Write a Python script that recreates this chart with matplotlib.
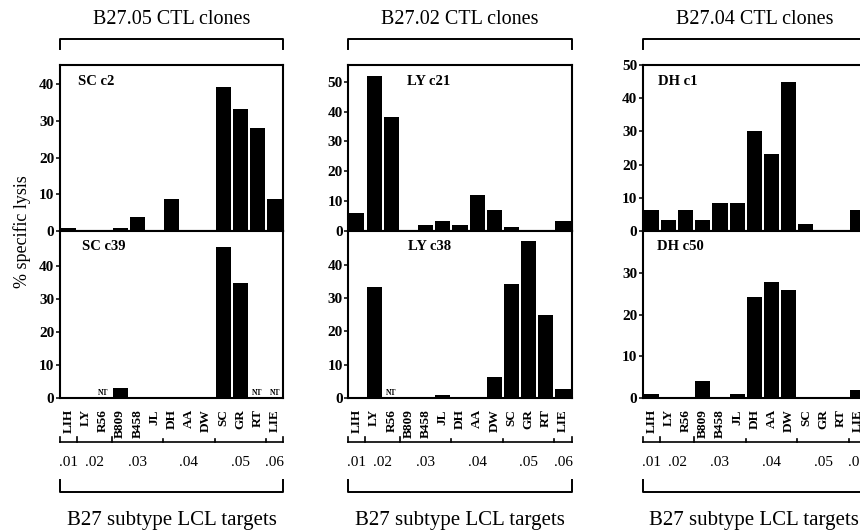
import numpy as np
import matplotlib
matplotlib.use("Agg")
import matplotlib.pyplot as plt
from matplotlib import transforms

plt.rcParams['font.family'] = ['Liberation Serif', 'DejaVu Serif']

# ---------------- data ----------------
targets = ["LIH", "LY", "R56", "B809", "B458", "JL", "DH", "AA", "DW",
           "SC", "GR", "RT", "LIE"]
subtype_groups = [".01", ".02", ".03", ".04", ".05", ".06"]
group_sizes = [1, 2, 3, 3, 3, 1]

titles = ["B27.05 CTL clones", "B27.02 CTL clones", "B27.04 CTL clones"]
xlabel_text = "B27 subtype LCL targets"
ylabel_text = "% specific lysis"
clone_top = ["SC c2", "LY c21", "DH c1"]
clone_bottom = ["SC c39", "LY c38", "DH c50"]

NT = np.nan  # not tested
sc_c2 = [0.8, 0, 0, 0.8, 3.7, 0, 8.7, 0, 0, 39.3, 33.2, 28.0, 8.7]
sc_c39 = [0, 0, NT, 2.9, 0, 0, 0, 0, 0, 45.6, 34.9, NT, NT]
ly_c21 = [6.1, 51.9, 38.3, 0.3, 2.1, 3.2, 2.0, 12.0, 7.2, 1.3, 0.3, 0.3, 3.2]
ly_c38 = [0, 33.3, NT, 0, 0, 1.0, 0, 0, 6.2, 34.3, 47.3, 25.1, 2.8]
dh_c1 = [6.3, 3.2, 6.3, 3.3, 8.4, 8.4, 30.1, 23.2, 45.0, 2.2, 0.3, 0.3, 6.3]
dh_c50 = [1.0, 0.3, 0.3, 4.0, 0.3, 1.0, 24.2, 28.0, 26.1, 0.2, 0.2, 0.2, 1.9]

top_series = [sc_c2, ly_c21, dh_c1]
bottom_series = [sc_c39, ly_c38, dh_c50]
top_ylim = [45.2, 55.6, 50.0]
bottom_ylim = [50.5, 50.2, 40.2]
top_yticks = [[0, 10, 20, 30, 40], [0, 10, 20, 30, 40, 50], [0, 10, 20, 30, 40, 50]]
bottom_yticks = [[0, 10, 20, 30, 40], [0, 10, 20, 30, 40], [0, 10, 20, 30]]

# ---------------- layout ----------------
W, H = 860, 531
fig = plt.figure(figsize=(W / 100, H / 100), dpi=100)

lefts_px = [60, 348.3, 642.7]
width_px = 223.3
top_px, mid_px, bot_px = 65, 231, 398

label_x_px_top = [18, 59, 15]
label_x_px_bot = [22, 60, 14]

x = np.arange(len(targets))
lw = 1.5


def fy(py):
    return (H - py) / H


for k in range(3):
    l = lefts_px[k] / W
    w = width_px / W
    ax_t = fig.add_axes([l, fy(mid_px), w, (mid_px - top_px) / H])
    ax_b = fig.add_axes([l, fy(bot_px), w, (bot_px - mid_px) / H])

    for ax, ser, ylim, yt, name, lx, ly in (
            (ax_t, top_series[k], top_ylim[k], top_yticks[k], clone_top[k],
             label_x_px_top[k], 17),
            (ax_b, bottom_series[k], bottom_ylim[k], bottom_yticks[k],
             clone_bottom[k], label_x_px_bot[k], 15)):
        vals = np.array(ser, dtype=float)
        ax.bar(x, np.nan_to_num(vals), width=0.88, color="black", linewidth=0)
        for i, v in enumerate(vals):
            if np.isnan(v):
                ax.text(i, 0.3, "NT", ha="center", va="bottom", fontsize=5.5,
                        fontweight="bold")
        ax.set_xlim(-0.5, len(targets) - 0.5)
        ax.set_ylim(0, ylim)
        ax.set_yticks(yt)
        ax.set_yticklabels([str(t) for t in yt], fontweight="bold", fontsize=11)
        ax.tick_params(axis="y", direction="out", length=3, width=1.1, pad=1)
        for s in ax.spines.values():
            s.set_linewidth(lw)
        ax.text(lx / width_px, 1 - ly / (ax.bbox.height), name,
                transform=ax.transAxes, ha="left", va="center",
                fontsize=10.5, fontweight="bold")

    ax_t.set_xticks([])
    ax_b.set_xticks(x)
    ax_b.set_xticklabels(targets, rotation=90, fontweight="bold", fontsize=9.5,
                         va="top", ha="center")
    ax_b.tick_params(axis="x", length=0, pad=8)

    tr = transforms.blended_transform_factory(ax_b.transData, fig.transFigure)
    x0, x1 = -0.5, len(targets) - 0.5

    # top bracket & title
    fig.add_artist(plt.Line2D([x0, x0, x1, x1],
                              [fy(49), fy(39), fy(39), fy(49)],
                              transform=tr, color="black", lw=1.4))
    fig.text((x0 + x1) / 2, fy(19), titles[k], transform=tr, ha="center",
             va="center", fontsize=14.5)

    # subtype group bracket
    fig.add_artist(plt.Line2D([x0, x1], [fy(442), fy(442)], transform=tr,
                              color="black", lw=1.2))
    edges = np.concatenate([[0], np.cumsum(group_sizes)]) - 0.5
    for j, e in enumerate(edges):
        hgt = 5 if j in (0, 1, 2, len(edges) - 1) else 3
        fig.add_artist(plt.Line2D([e, e], [fy(442), fy(442 - hgt)],
                                  transform=tr, color="black", lw=1.2))
    for j, g in enumerate(subtype_groups):
        c = (edges[j] + edges[j + 1]) / 2
        fig.text(c, fy(462), g, transform=tr, ha="center", va="center",
                 fontsize=11)

    # bottom big bracket & label
    fig.add_artist(plt.Line2D([x0, x0, x1, x1],
                              [fy(480), fy(492), fy(492), fy(480)],
                              transform=tr, color="black", lw=1.4))
    fig.text((x0 + x1) / 2, fy(520), xlabel_text, transform=tr,
             ha="center", va="center", fontsize=15)

fig.text(22 / W, fy(232), ylabel_text, rotation=90, ha="center", va="center",
         fontsize=13)

fig.savefig("out.png", dpi=100)
